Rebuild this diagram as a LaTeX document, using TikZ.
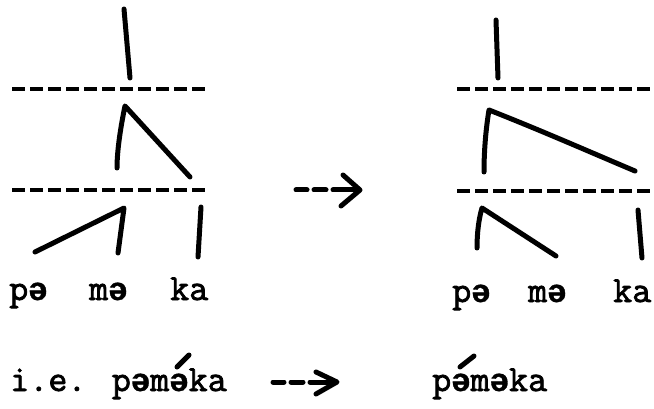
\documentclass[tikz,border=0pt]{standalone}
\usepackage{fontspec}
\newfontfamily\twfam{Latin Modern Mono}[FakeBold=2]
\newfontfamily\schwafam{Liberation Mono}[FakeBold=1]
\newcommand\shw{{\schwafam\bfseries\fontsize{32.3}{32.3}\selectfont ə}}
\begin{document}
\begin{tikzpicture}[x=1pt,y=-1pt,
  txt/.style={inner sep=0pt,anchor=base west,font=\twfam\fontsize{37}{37}\selectfont},
  stroke/.style={line width=5pt,line cap=round,line join=round},
  tier/.style={line width=4pt,dash pattern=on 13pt off 5pt}]
\useasboundingbox (0,0) rectangle (654,409);

% ---------- left tree ----------
\draw[tier] (12,89) -- (208,89);
\draw[tier] (12,190) -- (208,190);
\draw[stroke] (124,9) -- (130,78);
\draw[stroke] (117,168) .. controls (117,150) and (121,125) .. (125,106) -- (190,177);
\draw[stroke] (35,252) -- (124,208) -- (118,253);
\draw[stroke] (201,207) -- (198,257);
\node[txt] (pa1) at (9,300) {p\shw};
\node[txt] (ma1) at (89,300) {m\shw};
\node[txt] (ka1) at (170,300) {ka};

% ---------- middle arrow ----------
\draw[stroke] (296,190) -- (307,190);
\draw[stroke] (314,190) -- (326,190);
\draw[stroke] (333,190) -- (359,190);
\draw[stroke] (343,175) -- (360,190) -- (341,206);

% ---------- right tree ----------
\draw[tier] (457,89) -- (653,89);
\draw[tier] (457,191) -- (653,191);
\draw[stroke] (496,20) -- (498,78);
\draw[stroke] (484,172) .. controls (484,150) and (486,128) .. (489,110)
  .. controls (540,130) and (590,152) .. (635,171);
\draw[stroke] (477,248) .. controls (477,232) and (479,218) .. (482,208) -- (556,256);
\draw[stroke] (638,210) -- (642,258);
\node[txt] (pa2) at (452,302) {p\shw};
\node[txt] (ma2) at (528,302) {m\shw};
\node[txt] (ka2) at (613,302) {ka};

% ---------- bottom line ----------
\node[txt] (ie) at (10,391) {i.e. p\shw m\shw ka};
\draw[stroke] (177,367) -- (189,355);
\draw[stroke] (273,382) -- (284,382);
\draw[stroke] (291,382) -- (303,382);
\draw[stroke] (310,382) -- (336,382);
\draw[stroke] (316,372) -- (337,382) -- (316,394);
\node[txt] (res) at (432,391) {p\shw m\shw ka};
\draw[stroke] (460,367) -- (474,356);
\end{tikzpicture}
\end{document}
